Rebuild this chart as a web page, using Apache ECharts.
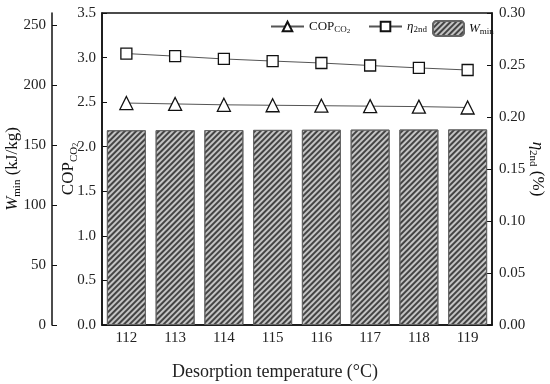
<!DOCTYPE html>
<html>
<head>
<meta charset="utf-8">
<script src="https://cdn.jsdelivr.net/npm/echarts@6/dist/echarts.min.js"></script>
<style>html,body{margin:0;padding:0;background:#fff}#c{width:550px;height:384px}</style>
</head>
<body>
<div id="c"></div>
<script>
var categories = ['112', '113', '114', '115', '116', '117', '118', '119'];
var wmin = [162.3, 162.4, 162.5, 162.6, 162.7, 162.8, 162.9, 163.0];
var cop = [2.49, 2.48, 2.47, 2.465, 2.46, 2.455, 2.45, 2.44];
var eta2nd = [0.261, 0.2585, 0.2558, 0.2538, 0.2519, 0.2495, 0.2472, 0.2452];
var wTicks = [0, 50, 100, 150, 200, 250];

var FONT = 'Liberation Serif';
var chart = echarts.init(document.getElementById('c'), null, {renderer: 'canvas'});
var axisLineStyle = {color: '#111', width: 1.5};
var rich = {
  n: {fontFamily: FONT, fontSize: 17, color: '#111'},
  i: {fontFamily: FONT, fontSize: 17, fontStyle: 'italic', color: '#111'},
  s: {fontFamily: FONT, fontSize: 11, color: '#111', padding: [10, 0, 0, 0]},
  ss: {fontFamily: FONT, fontSize: 8, color: '#111', padding: [14, 0, 0, 0]},
  ln: {fontFamily: FONT, fontSize: 13, color: '#111'},
  li: {fontFamily: FONT, fontSize: 13, fontStyle: 'italic', color: '#111'},
  ls: {fontFamily: FONT, fontSize: 9, color: '#111', padding: [7, 0, 0, 0]},
  lss: {fontFamily: FONT, fontSize: 7, color: '#111', padding: [10, 0, 0, 0]}
};
var legendFmt = function (name) {
  if (name === 'COP') return '{ln|COP}{ls|CO}{lss|2}';
  if (name === 'eta') return '{li|η}{ls|2nd}';
  return '{li|W}{ls|min}';
};
var legendBase = {
  top: 15, itemWidth: 33, itemHeight: 12, itemGap: 0,
  formatter: legendFmt, textStyle: {rich: rich, padding: [0, 0, 0, 0]},
  selectedMode: false
};
var option = {
  animation: false,
  backgroundColor: '#fff',
  grid: {left: 102, right: 58, top: 13, bottom: 59, containLabel: false, outerBoundsMode: 'none',
    show: true, borderColor: '#111', borderWidth: 1.5},
  legend: [
    Object.assign({}, legendBase, {left: 265, data: ['COP']}),
    Object.assign({}, legendBase, {left: 363, data: ['eta']}),
    Object.assign({}, legendBase, {left: 427, itemWidth: 31, itemHeight: 15, data: ['W']})
  ],
  xAxis: {
    type: 'category', data: categories,
    axisLine: {lineStyle: axisLineStyle},
    axisTick: {inside: true, alignWithLabel: true, length: 4, lineStyle: {color: '#111'}},
    axisLabel: {fontFamily: FONT, fontSize: 15, color: '#222', margin: 6},
    name: 'Desorption temperature (°C)', nameLocation: 'middle', nameGap: 38, nameMoveOverlap: false,
    nameTextStyle: {fontFamily: FONT, fontSize: 18, color: '#222', padding: [0, 44, 0, 0]}
  },
  yAxis: [
    {
      type: 'value', position: 'left', offset: 50, min: 0, max: 260, interval: 50,
      axisLine: {show: true, lineStyle: axisLineStyle},
      axisTick: {show: true, inside: true, length: 5, customValues: wTicks, lineStyle: {color: '#111'}},
      axisLabel: {fontFamily: FONT, fontSize: 15, color: '#222', margin: 6, customValues: wTicks},
      splitLine: {show: false},
      name: '{i|W}{s|min}{n| (kJ/kg)}', nameLocation: 'middle', nameGap: 29, nameMoveOverlap: false,
      nameTextStyle: {rich: rich}
    },
    {
      type: 'value', position: 'left', offset: 0, min: 0, max: 3.5, interval: 0.5,
      axisLine: {show: true, lineStyle: axisLineStyle},
      axisTick: {show: true, inside: true, length: 5, lineStyle: {color: '#111'}},
      axisLabel: {fontFamily: FONT, fontSize: 15, color: '#222', margin: 6,
        formatter: function (v) { return v.toFixed(1); }},
      splitLine: {show: false},
      name: '{n|COP}{s|CO}{ss|2}', nameLocation: 'middle', nameGap: 22, nameMoveOverlap: false,
      nameTextStyle: {rich: rich}
    },
    {
      type: 'value', position: 'right', min: 0, max: 0.30, interval: 0.05,
      axisLine: {show: true, lineStyle: axisLineStyle},
      axisTick: {show: true, inside: true, length: 5, lineStyle: {color: '#111'}},
      axisLabel: {fontFamily: FONT, fontSize: 15, color: '#222', margin: 7,
        formatter: function (v) { return v.toFixed(2); }},
      splitLine: {show: false},
      name: '{i|η}{s|2nd}{n| (%)}', nameLocation: 'middle', nameGap: 35, nameRotate: -90, nameMoveOverlap: false,
      nameTextStyle: {rich: rich}
    }
  ],
  series: [
    {
      name: 'W', type: 'bar', yAxisIndex: 0, data: wmin, barCategoryGap: '20%',
      itemStyle: {
        color: '#c4c4c4', borderColor: '#666', borderWidth: 1,
        decal: {symbol: 'rect', symbolSize: 1, dashArrayX: [1, 0], dashArrayY: [2, 2],
          rotation: -Math.PI / 4, color: '#444'}
      },
      z: 1
    },
    {
      name: 'COP', type: 'line', yAxisIndex: 1, data: cop,
      symbol: 'triangle', symbolSize: 13, showAllSymbol: true,
      lineStyle: {color: '#555', width: 1},
      itemStyle: {color: '#fff', borderColor: '#111', borderWidth: 1.3},
      z: 3
    },
    {
      name: 'eta', type: 'line', yAxisIndex: 2, data: eta2nd,
      symbol: 'rect', symbolSize: 11, showAllSymbol: true,
      lineStyle: {color: '#555', width: 1},
      itemStyle: {color: '#fff', borderColor: '#111', borderWidth: 1.3},
      z: 3
    }
  ]
};
chart.setOption(option);
</script>
</body>
</html>
